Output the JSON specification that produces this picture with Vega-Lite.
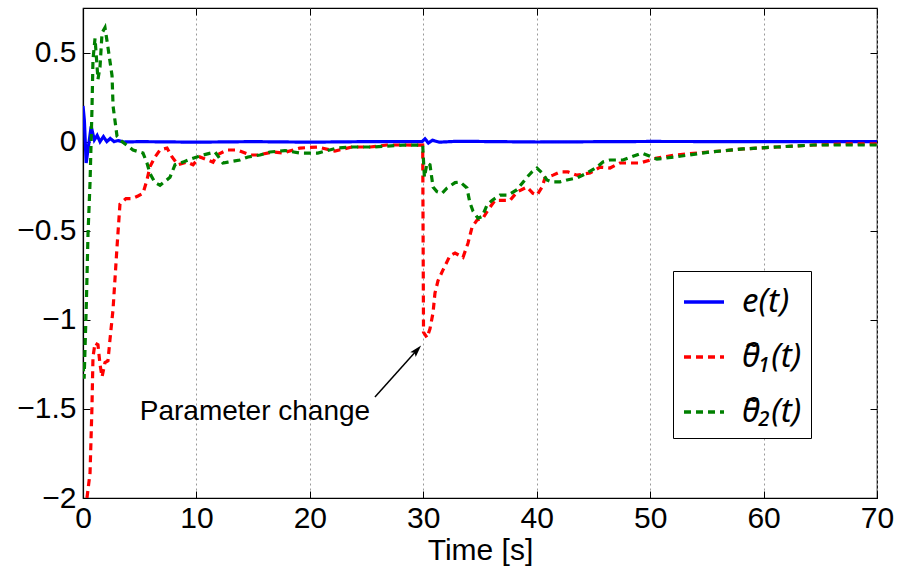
{
  "$schema": "https://vega.github.io/schema/vega-lite/v6.json",
  "width": 794,
  "height": 490,
  "autosize": {"type": "none"},
  "padding": {"left": 83, "top": 8, "right": 22, "bottom": 73},
  "background": "white",
  "config": {
    "view": {"stroke": "black", "strokeWidth": 1.2},
    "font": "Liberation Sans",
    "axis": {
      "domainColor": "black",
      "tickColor": "black",
      "labelColor": "black",
      "titleColor": "black",
      "labelFont": "Liberation Sans",
      "titleFont": "Liberation Sans",
      "labelFontSize": 30,
      "titleFontSize": 30,
      "titleFontWeight": "normal"
    }
  },
  "datasets": {
    "curves": [
      {"t": 0, "v": 0.2, "s": "e(t)"},
      {"t": 0.12, "v": 0.12, "s": "e(t)"},
      {"t": 0.28, "v": -0.12, "s": "e(t)"},
      {"t": 0.45, "v": -0.04, "s": "e(t)"},
      {"t": 0.72, "v": 0.085, "s": "e(t)"},
      {"t": 1.0, "v": 0.01, "s": "e(t)"},
      {"t": 1.25, "v": 0.035, "s": "e(t)"},
      {"t": 1.5, "v": 0.0, "s": "e(t)"},
      {"t": 1.8, "v": 0.028, "s": "e(t)"},
      {"t": 2.1, "v": 0.0, "s": "e(t)"},
      {"t": 2.4, "v": 0.018, "s": "e(t)"},
      {"t": 2.75, "v": 0.0, "s": "e(t)"},
      {"t": 3.1, "v": 0.006, "s": "e(t)"},
      {"t": 3.6, "v": -0.002, "s": "e(t)"},
      {"t": 5, "v": 0.0, "s": "e(t)"},
      {"t": 10, "v": -0.003, "s": "e(t)"},
      {"t": 15, "v": 0.0, "s": "e(t)"},
      {"t": 20, "v": -0.003, "s": "e(t)"},
      {"t": 25, "v": 0.0, "s": "e(t)"},
      {"t": 29.9, "v": 0.0, "s": "e(t)"},
      {"t": 30.15, "v": 0.016, "s": "e(t)"},
      {"t": 30.45, "v": -0.008, "s": "e(t)"},
      {"t": 30.8, "v": 0.008, "s": "e(t)"},
      {"t": 31.4, "v": -0.003, "s": "e(t)"},
      {"t": 33, "v": 0.002, "s": "e(t)"},
      {"t": 40, "v": -0.002, "s": "e(t)"},
      {"t": 50, "v": 0.001, "s": "e(t)"},
      {"t": 60, "v": 0.0, "s": "e(t)"},
      {"t": 70, "v": 0.0, "s": "e(t)"},

      {"t": 0.35, "v": -2.0, "s": "θ̃₁(t)"},
      {"t": 0.62, "v": -1.86, "s": "θ̃₁(t)"},
      {"t": 0.79, "v": -1.49, "s": "θ̃₁(t)"},
      {"t": 0.88, "v": -1.21, "s": "θ̃₁(t)"},
      {"t": 1.06, "v": -1.13, "s": "θ̃₁(t)"},
      {"t": 1.32, "v": -1.14, "s": "θ̃₁(t)"},
      {"t": 1.5, "v": -1.25, "s": "θ̃₁(t)"},
      {"t": 1.68, "v": -1.32, "s": "θ̃₁(t)"},
      {"t": 1.94, "v": -1.24, "s": "θ̃₁(t)"},
      {"t": 2.2, "v": -1.23, "s": "θ̃₁(t)"},
      {"t": 2.38, "v": -1.11, "s": "θ̃₁(t)"},
      {"t": 2.65, "v": -0.94, "s": "θ̃₁(t)"},
      {"t": 3.0, "v": -0.59, "s": "θ̃₁(t)"},
      {"t": 3.26, "v": -0.35, "s": "θ̃₁(t)"},
      {"t": 3.79, "v": -0.32, "s": "θ̃₁(t)"},
      {"t": 4.32, "v": -0.32, "s": "θ̃₁(t)"},
      {"t": 4.85, "v": -0.305, "s": "θ̃₁(t)"},
      {"t": 5.29, "v": -0.29, "s": "θ̃₁(t)"},
      {"t": 5.64, "v": -0.215, "s": "θ̃₁(t)"},
      {"t": 5.91, "v": -0.14, "s": "θ̃₁(t)"},
      {"t": 6.35, "v": -0.086, "s": "θ̃₁(t)"},
      {"t": 6.79, "v": -0.047, "s": "θ̃₁(t)"},
      {"t": 7.41, "v": -0.036, "s": "θ̃₁(t)"},
      {"t": 7.85, "v": -0.086, "s": "θ̃₁(t)"},
      {"t": 8.38, "v": -0.13, "s": "θ̃₁(t)"},
      {"t": 9.17, "v": -0.115, "s": "θ̃₁(t)"},
      {"t": 9.7, "v": -0.13, "s": "θ̃₁(t)"},
      {"t": 10.31, "v": -0.086, "s": "θ̃₁(t)"},
      {"t": 11.46, "v": -0.115, "s": "θ̃₁(t)"},
      {"t": 11.81, "v": -0.075, "s": "θ̃₁(t)"},
      {"t": 12.7, "v": -0.047, "s": "θ̃₁(t)"},
      {"t": 13.58, "v": -0.047, "s": "θ̃₁(t)"},
      {"t": 14.72, "v": -0.075, "s": "θ̃₁(t)"},
      {"t": 15.43, "v": -0.075, "s": "θ̃₁(t)"},
      {"t": 16.75, "v": -0.058, "s": "θ̃₁(t)"},
      {"t": 17.6, "v": -0.064, "s": "θ̃₁(t)"},
      {"t": 19.13, "v": -0.036, "s": "θ̃₁(t)"},
      {"t": 20.7, "v": -0.03, "s": "θ̃₁(t)"},
      {"t": 22.2, "v": -0.053, "s": "θ̃₁(t)"},
      {"t": 23.7, "v": -0.03, "s": "θ̃₁(t)"},
      {"t": 25.3, "v": -0.03, "s": "θ̃₁(t)"},
      {"t": 26.8, "v": -0.019, "s": "θ̃₁(t)"},
      {"t": 28.4, "v": -0.019, "s": "θ̃₁(t)"},
      {"t": 29.95, "v": -0.02, "s": "θ̃₁(t)"},
      {"t": 30.02, "v": -1.07, "s": "θ̃₁(t)"},
      {"t": 30.33, "v": -1.1, "s": "θ̃₁(t)"},
      {"t": 30.59, "v": -1.05, "s": "θ̃₁(t)"},
      {"t": 30.86, "v": -0.96, "s": "θ̃₁(t)"},
      {"t": 31.03, "v": -0.85, "s": "θ̃₁(t)"},
      {"t": 31.3, "v": -0.78, "s": "θ̃₁(t)"},
      {"t": 31.74, "v": -0.72, "s": "θ̃₁(t)"},
      {"t": 32.35, "v": -0.64, "s": "θ̃₁(t)"},
      {"t": 32.8, "v": -0.625, "s": "θ̃₁(t)"},
      {"t": 33.5, "v": -0.65, "s": "θ̃₁(t)"},
      {"t": 33.94, "v": -0.57, "s": "θ̃₁(t)"},
      {"t": 34.3, "v": -0.48, "s": "θ̃₁(t)"},
      {"t": 34.74, "v": -0.44, "s": "θ̃₁(t)"},
      {"t": 35.26, "v": -0.43, "s": "θ̃₁(t)"},
      {"t": 35.7, "v": -0.384, "s": "θ̃₁(t)"},
      {"t": 36.32, "v": -0.33, "s": "θ̃₁(t)"},
      {"t": 36.94, "v": -0.33, "s": "θ̃₁(t)"},
      {"t": 37.64, "v": -0.33, "s": "θ̃₁(t)"},
      {"t": 38.26, "v": -0.283, "s": "θ̃₁(t)"},
      {"t": 39.14, "v": -0.255, "s": "θ̃₁(t)"},
      {"t": 39.67, "v": -0.29, "s": "θ̃₁(t)"},
      {"t": 40.02, "v": -0.3, "s": "θ̃₁(t)"},
      {"t": 40.47, "v": -0.255, "s": "θ̃₁(t)"},
      {"t": 40.73, "v": -0.204, "s": "θ̃₁(t)"},
      {"t": 41.44, "v": -0.188, "s": "θ̃₁(t)"},
      {"t": 42.05, "v": -0.17, "s": "θ̃₁(t)"},
      {"t": 42.76, "v": -0.17, "s": "θ̃₁(t)"},
      {"t": 43.55, "v": -0.188, "s": "θ̃₁(t)"},
      {"t": 44.7, "v": -0.176, "s": "θ̃₁(t)"},
      {"t": 45.58, "v": -0.143, "s": "θ̃₁(t)"},
      {"t": 46.46, "v": -0.148, "s": "θ̃₁(t)"},
      {"t": 47.34, "v": -0.12, "s": "θ̃₁(t)"},
      {"t": 49.1, "v": -0.12, "s": "θ̃₁(t)"},
      {"t": 50.6, "v": -0.092, "s": "θ̃₁(t)"},
      {"t": 52.2, "v": -0.075, "s": "θ̃₁(t)"},
      {"t": 55.3, "v": -0.058, "s": "θ̃₁(t)"},
      {"t": 58.2, "v": -0.041, "s": "θ̃₁(t)"},
      {"t": 61.2, "v": -0.03, "s": "θ̃₁(t)"},
      {"t": 64.4, "v": -0.019, "s": "θ̃₁(t)"},
      {"t": 67.35, "v": -0.013, "s": "θ̃₁(t)"},
      {"t": 70, "v": -0.013, "s": "θ̃₁(t)"},

      {"t": 0, "v": -1.25, "s": "θ̃₂(t)"},
      {"t": 0.1, "v": -1.33, "s": "θ̃₂(t)"},
      {"t": 0.3, "v": -0.9, "s": "θ̃₂(t)"},
      {"t": 0.44, "v": -0.52, "s": "θ̃₂(t)"},
      {"t": 0.62, "v": -0.23, "s": "θ̃₂(t)"},
      {"t": 0.79, "v": 0.18, "s": "θ̃₂(t)"},
      {"t": 0.88, "v": 0.46, "s": "θ̃₂(t)"},
      {"t": 1.06, "v": 0.58, "s": "θ̃₂(t)"},
      {"t": 1.32, "v": 0.35, "s": "θ̃₂(t)"},
      {"t": 1.5, "v": 0.42, "s": "θ̃₂(t)"},
      {"t": 1.68, "v": 0.61, "s": "θ̃₂(t)"},
      {"t": 1.94, "v": 0.64, "s": "θ̃₂(t)"},
      {"t": 2.2, "v": 0.53, "s": "θ̃₂(t)"},
      {"t": 2.56, "v": 0.37, "s": "θ̃₂(t)"},
      {"t": 2.65, "v": 0.2, "s": "θ̃₂(t)"},
      {"t": 3.0, "v": 0.03, "s": "θ̃₂(t)"},
      {"t": 3.44, "v": 0.0, "s": "θ̃₂(t)"},
      {"t": 4.41, "v": -0.047, "s": "θ̃₂(t)"},
      {"t": 5.29, "v": -0.064, "s": "θ̃₂(t)"},
      {"t": 5.64, "v": -0.12, "s": "θ̃₂(t)"},
      {"t": 5.91, "v": -0.18, "s": "θ̃₂(t)"},
      {"t": 6.35, "v": -0.23, "s": "θ̃₂(t)"},
      {"t": 6.79, "v": -0.245, "s": "θ̃₂(t)"},
      {"t": 7.67, "v": -0.2, "s": "θ̃₂(t)"},
      {"t": 8.11, "v": -0.13, "s": "θ̃₂(t)"},
      {"t": 8.82, "v": -0.115, "s": "θ̃₂(t)"},
      {"t": 9.26, "v": -0.103, "s": "θ̃₂(t)"},
      {"t": 10.05, "v": -0.086, "s": "θ̃₂(t)"},
      {"t": 10.58, "v": -0.075, "s": "θ̃₂(t)"},
      {"t": 11.64, "v": -0.058, "s": "θ̃₂(t)"},
      {"t": 12.34, "v": -0.12, "s": "θ̃₂(t)"},
      {"t": 12.78, "v": -0.115, "s": "θ̃₂(t)"},
      {"t": 13.84, "v": -0.103, "s": "θ̃₂(t)"},
      {"t": 14.55, "v": -0.086, "s": "θ̃₂(t)"},
      {"t": 15.6, "v": -0.075, "s": "θ̃₂(t)"},
      {"t": 16.49, "v": -0.058, "s": "θ̃₂(t)"},
      {"t": 17.8, "v": -0.05, "s": "θ̃₂(t)"},
      {"t": 19.13, "v": -0.064, "s": "θ̃₂(t)"},
      {"t": 20.7, "v": -0.064, "s": "θ̃₂(t)"},
      {"t": 22.4, "v": -0.036, "s": "θ̃₂(t)"},
      {"t": 23.8, "v": -0.03, "s": "θ̃₂(t)"},
      {"t": 25.5, "v": -0.03, "s": "θ̃₂(t)"},
      {"t": 26.8, "v": -0.025, "s": "θ̃₂(t)"},
      {"t": 28.4, "v": -0.019, "s": "θ̃₂(t)"},
      {"t": 29.95, "v": -0.02, "s": "θ̃₂(t)"},
      {"t": 30.0, "v": -0.086, "s": "θ̃₂(t)"},
      {"t": 30.1, "v": -0.2, "s": "θ̃₂(t)"},
      {"t": 30.33, "v": -0.12, "s": "θ̃₂(t)"},
      {"t": 30.59, "v": -0.13, "s": "θ̃₂(t)"},
      {"t": 30.86, "v": -0.255, "s": "θ̃₂(t)"},
      {"t": 31.2, "v": -0.28, "s": "θ̃₂(t)"},
      {"t": 31.65, "v": -0.29, "s": "θ̃₂(t)"},
      {"t": 32.1, "v": -0.26, "s": "θ̃₂(t)"},
      {"t": 32.8, "v": -0.23, "s": "θ̃₂(t)"},
      {"t": 33.24, "v": -0.226, "s": "θ̃₂(t)"},
      {"t": 33.85, "v": -0.26, "s": "θ̃₂(t)"},
      {"t": 34.1, "v": -0.34, "s": "θ̃₂(t)"},
      {"t": 34.38, "v": -0.39, "s": "θ̃₂(t)"},
      {"t": 34.82, "v": -0.43, "s": "θ̃₂(t)"},
      {"t": 35.18, "v": -0.42, "s": "θ̃₂(t)"},
      {"t": 35.62, "v": -0.356, "s": "θ̃₂(t)"},
      {"t": 36.06, "v": -0.33, "s": "θ̃₂(t)"},
      {"t": 36.76, "v": -0.3, "s": "θ̃₂(t)"},
      {"t": 37.47, "v": -0.3, "s": "θ̃₂(t)"},
      {"t": 38.26, "v": -0.27, "s": "θ̃₂(t)"},
      {"t": 39.14, "v": -0.2, "s": "θ̃₂(t)"},
      {"t": 39.58, "v": -0.17, "s": "θ̃₂(t)"},
      {"t": 40.02, "v": -0.148, "s": "θ̃₂(t)"},
      {"t": 40.47, "v": -0.176, "s": "θ̃₂(t)"},
      {"t": 40.9, "v": -0.215, "s": "θ̃₂(t)"},
      {"t": 41.35, "v": -0.226, "s": "θ̃₂(t)"},
      {"t": 42.05, "v": -0.226, "s": "θ̃₂(t)"},
      {"t": 42.67, "v": -0.215, "s": "θ̃₂(t)"},
      {"t": 43.55, "v": -0.204, "s": "θ̃₂(t)"},
      {"t": 44.43, "v": -0.176, "s": "θ̃₂(t)"},
      {"t": 45.31, "v": -0.143, "s": "θ̃₂(t)"},
      {"t": 45.84, "v": -0.114, "s": "θ̃₂(t)"},
      {"t": 46.46, "v": -0.103, "s": "θ̃₂(t)"},
      {"t": 47.61, "v": -0.103, "s": "θ̃₂(t)"},
      {"t": 49.28, "v": -0.064, "s": "θ̃₂(t)"},
      {"t": 50.6, "v": -0.098, "s": "θ̃₂(t)"},
      {"t": 52.2, "v": -0.086, "s": "θ̃₂(t)"},
      {"t": 55.3, "v": -0.058, "s": "θ̃₂(t)"},
      {"t": 58.2, "v": -0.041, "s": "θ̃₂(t)"},
      {"t": 61.2, "v": -0.03, "s": "θ̃₂(t)"},
      {"t": 64.4, "v": -0.019, "s": "θ̃₂(t)"},
      {"t": 67.35, "v": -0.019, "s": "θ̃₂(t)"},
      {"t": 70, "v": -0.019, "s": "θ̃₂(t)"}
    ],
    "arrow": [
      {"t": 25.74, "v": -1.433, "t2": 29.45, "v2": -1.17}
    ],
    "note": [
      {"t": 15.16, "v": -1.52, "label": "Parameter change"}
    ]
  },
  "resolve": {"axis": {"x": "independent", "y": "independent"}},
  "layer": [
    {
      "data": {"name": "curves"},
      "mark": {"type": "line", "clip": true, "strokeWidth": 3.2},
      "encoding": {
        "x": {
          "field": "t", "type": "quantitative",
          "scale": {"domain": [0, 70], "nice": false, "zero": false},
          "axis": {
            "title": "Time [s]",
            "values": [0, 10, 20, 30, 40, 50, 60, 70],
            "grid": true, "gridDash": [2, 3], "gridColor": "#9a9a9a", "gridWidth": 1,
            "tickSize": -7, "labelPadding": 12, "titlePadding": 2,
            "domainWidth": 1.2, "labelFlush": false
          }
        },
        "y": {
          "field": "v", "type": "quantitative",
          "scale": {"domain": [-2, 0.75], "nice": false, "zero": false},
          "axis": {
            "title": null,
            "values": [0.5, 0, -0.5, -1, -1.5, -2],
            "format": "~g",
            "grid": false,
            "tickSize": -7, "labelPadding": 14,
            "domainWidth": 1.2, "labelFlush": false
          }
        },
        "color": {
          "field": "s", "type": "nominal", "sort": null,
          "scale": {"domain": ["e(t)", "θ̃₁(t)", "θ̃₂(t)"], "range": ["#0000ff", "#ff0000", "#008000"]},
          "legend": {
            "title": null,
            "orient": "none",
            "legendX": 590,
            "legendY": 263,
            "strokeColor": "black",
            "fillColor": "white",
            "padding": 9,
            "symbolType": "stroke",
            "symbolSize": 1600,
            "symbolStrokeWidth": 3.5,
            "labelFont": "Noto Sans",
            "labelFontStyle": "italic",
            "labelFontSize": 33,
            "labelColor": "black",
            "labelOffset": 16,
            "rowPadding": 16
          }
        },
        "strokeDash": {
          "field": "s", "type": "nominal", "sort": null,
          "scale": {"domain": ["e(t)", "θ̃₁(t)", "θ̃₂(t)"], "range": [[1, 0], [7, 5], [7, 5]]},
          "legend": {
            "title": null,
            "orient": "none",
            "legendX": 590,
            "legendY": 263,
            "strokeColor": "black",
            "fillColor": "white",
            "padding": 9,
            "symbolType": "stroke",
            "symbolSize": 1600,
            "symbolStrokeWidth": 3.5,
            "labelFont": "Noto Sans",
            "labelFontStyle": "italic",
            "labelFontSize": 33,
            "labelColor": "black",
            "labelOffset": 16,
            "rowPadding": 16
          }
        }
      }
    },
    {
      "data": {"name": "arrow"},
      "mark": {"type": "rule", "color": "black", "strokeWidth": 1.5},
      "encoding": {
        "x": {"field": "t", "type": "quantitative", "scale": {"domain": [0, 70], "nice": false, "zero": false}, "axis": null},
        "y": {"field": "v", "type": "quantitative", "scale": {"domain": [-2, 0.75], "nice": false, "zero": false}, "axis": null},
        "x2": {"field": "t2"},
        "y2": {"field": "v2"}
      }
    },
    {
      "data": {"name": "arrow"},
      "mark": {"type": "point", "shape": "M0,-1L0.6,1L0,0.6L-0.6,1Z", "filled": true, "color": "black", "size": 150, "angle": 42, "opacity": 1},
      "encoding": {
        "x": {"field": "t2", "type": "quantitative", "scale": {"domain": [0, 70], "nice": false, "zero": false}, "axis": null},
        "y": {"field": "v2", "type": "quantitative", "scale": {"domain": [-2, 0.75], "nice": false, "zero": false}, "axis": null}
      }
    },
    {
      "data": {"name": "note"},
      "mark": {"type": "text", "font": "Liberation Sans", "fontSize": 28, "color": "black", "align": "center", "baseline": "middle"},
      "encoding": {
        "x": {
          "field": "t", "type": "quantitative",
          "scale": {"domain": [0, 70], "nice": false, "zero": false},
          "axis": {"orient": "top", "labels": false, "title": null, "domain": false, "grid": false, "tickSize": -7, "values": [0, 10, 20, 30, 40, 50, 60, 70]}
        },
        "y": {
          "field": "v", "type": "quantitative",
          "scale": {"domain": [-2, 0.75], "nice": false, "zero": false},
          "axis": {"orient": "right", "labels": false, "title": null, "domain": false, "grid": false, "tickSize": -7, "values": [0.5, 0, -0.5, -1, -1.5, -2]}
        },
        "text": {"field": "label", "type": "nominal"}
      }
    }
  ]
}
